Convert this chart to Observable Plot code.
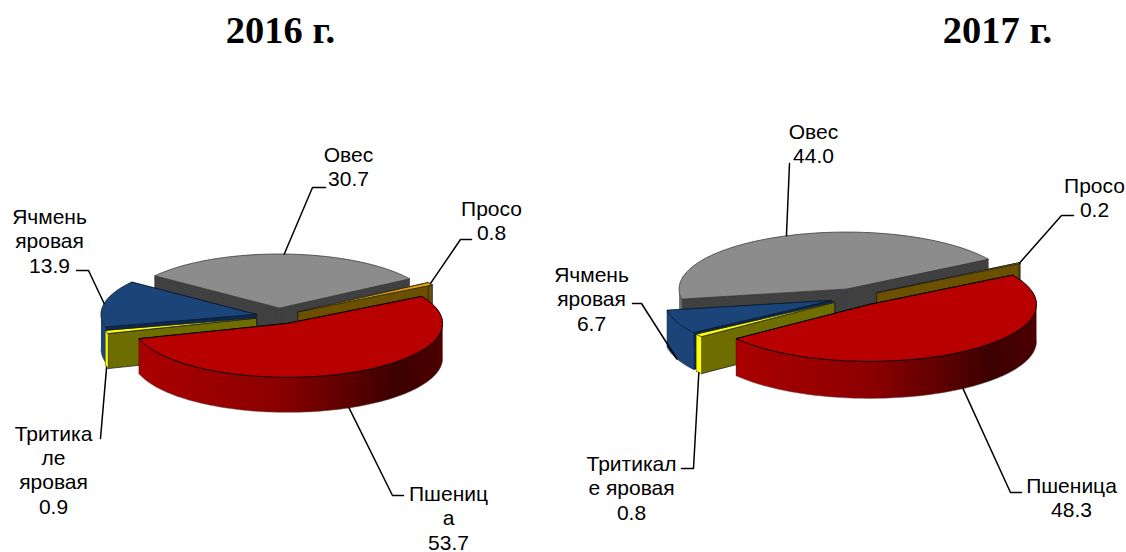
<!DOCTYPE html>
<html>
<head>
<meta charset="utf-8">
<script src="https://cdn.jsdelivr.net/npm/d3@7"></script>
<script src="https://cdn.jsdelivr.net/npm/@observablehq/plot@0.6"></script>
<style>html,body{margin:0;padding:0;background:#fff}svg{display:block}</style>
</head>
<body>
<div id="chart"></div>
<script>
// Data (order of slices clockwise from the wheat slice)
const crops = ["Пшеница", "Тритикале яровая", "Ячмень яровая", "Овес", "Просо"];
const values2016 = [53.7, 0.9, 13.9, 30.7, 0.8];
const values2017 = [48.3, 0.8, 6.7, 44.0, 0.2];
const labelNames2016 = ["Пшениц\nа", "Тритика\nле\nяровая", "Ячмень\nяровая", "Овес", "Просо"];
const labelNames2017 = ["Пшеница", "Тритикал\nе яровая", "Ячмень\nяровая", "Овес", "Просо"];
const titles = ["2016 г.", "2017 г."];

// Slice appearance
const topColors = ["#b80000", "#ffff00", "#1b4478", "#8c8c8c", "#e0a000"];
const faceColors = ["#a00000", "#6e6e00", "#0c2a50", "#404040", "#6b5000"];
const rimColors = ["url(#wheatSide)", "#ffff00", "#1c4478", "#6a6a6a", "#6b5000"];
const edgeColors = ["#000", "#222", "#0a1a30", "#3a3a3a", "#222"];
const paintOrder = [3, 2, 4, 1, 0];

// Pie layout (centre, radii, depth, explosion, start angle)
const pies = [
  {values: values2016, names: labelNames2016, cx: 278, cy: 315.5, a: 155, b: 54, depth: 35, explode: 23, start: -30, title: [280, 30],
   labels: [[448, 517], [53, 469], [49, 240], [348, 166], [491, 220]],
   elbows: [[[392, 495], [403, 495]], [[100, 438]], [[88, 270], [76, 270]], [[312, 187], [325, 187]], [[460, 239], [471, 239]]]},
  {values: values2017, names: labelNames2017, cx: 854.7, cy: 296.7, a: 167, b: 57, depth: 37, explode: 25.5, start: -31, title: [997, 30],
   labels: [[1071, 497], [631, 487], [591, 298], [813, 143], [1094, 197]],
   elbows: [[[1010, 492], [1021, 492]], [[693, 468], [681, 468]], [[641, 303], [632, 303]], [[789, 163]], [[1061, 215], [1073, 215]]]}
];

const rad = d => d * Math.PI / 180;
const marks = [];
const labelRows = [], leaderRows = [];

// horizontal shading of the wheat slice's side
marks.push(() => {
  const ns = "http://www.w3.org/2000/svg";
  const defs = document.createElementNS(ns, "defs");
  const g = document.createElementNS(ns, "linearGradient");
  g.setAttribute("id", "wheatSide");
  [[0, "#aa0000"], [0.45, "#8c0000"], [0.85, "#3c0000"], [1, "#4d0000"]].forEach(([o, c]) => {
    const st = document.createElementNS(ns, "stop");
    st.setAttribute("offset", o);
    st.setAttribute("stop-color", c);
    g.append(st);
  });
  defs.append(g);
  return defs;
});

pies.forEach((p, pi) => {
  const total = d3.sum(p.values);
  let t = p.start;
  const slices = p.values.map((v, i) => {
    const t0 = t, t1 = t + v / total * 360;
    t = t1;
    const mid = (t0 + t1) / 2;
    const ox = p.cx + p.explode * Math.cos(rad(mid));
    const oy = p.cy + p.explode * (p.b / p.a) * Math.sin(rad(mid));
    return {i, t0, t1, mid, ox, oy};
  });
  const rim = (s, d, dy = 0) => ({x: s.ox + p.a * Math.cos(rad(d)), y: s.oy + p.b * Math.sin(rad(d)) + dy});
  const arc = (s, from, to, dy = 0) => {
    const n = Math.max(2, Math.ceil(Math.abs(to - from) / 1.5));
    return d3.range(n + 1).map(k => rim(s, from + (to - from) * k / n, dy));
  };
  paintOrder.forEach(i => {
    const s = slices[i];
    const id = `${pi}-${i}`;
    const apexTop = {x: s.ox, y: s.oy}, apexBot = {x: s.ox, y: s.oy + p.depth};
    // two radial cut faces
    const faces = [];
    [s.t1, s.t0].forEach((d, k) => {
      [apexTop, rim(s, d), rim(s, d, p.depth), apexBot].forEach(q => faces.push({...q, id: id + "f" + k, col: faceColors[i]}));
    });
    marks.push(Plot.line(faces, {x: "x", y: "y", z: "id", fill: "col", stroke: edgeColors[i], strokeWidth: 0.8, curve: "linear-closed", strokeLinejoin: "round"}));
    // outer side, front part only
    const from = Math.max(s.t0, 0), to = Math.min(s.t1, 180);
    if (to > from) {
      const side = [...arc(s, from, to), ...arc(s, to, from, p.depth)];
      marks.push(Plot.line(side, {x: "x", y: "y", fill: rimColors[i], stroke: "none", curve: "linear-closed"}));
      marks.push(Plot.line(arc(s, from, to, p.depth), {x: "x", y: "y", stroke: "#555", strokeWidth: 0.5}));
    }
    // top surface
    const top = [apexTop, ...arc(s, s.t0, s.t1)].map(q => ({...q, col: topColors[i]}));
    marks.push(Plot.line(top, {x: "x", y: "y", fill: "col", stroke: edgeColors[i], strokeWidth: i === 0 ? 1 : 0.8, curve: "linear-closed", strokeLinejoin: "round"}));

    // label + leader
    const sinMid = Math.sin(rad(s.mid));
    const startPt = rim(s, s.mid, sinMid > 0 ? p.depth : 0);
    [startPt, ...p.elbows[i].map(([x, y]) => ({x, y}))].forEach((q, k) => leaderRows.push({...q, id: id, k}));
    labelRows.push({x: p.labels[i][0], y: p.labels[i][1], text: p.names[i] + "\n" + p.values[i].toFixed(1)});
  });
});

marks.push(Plot.line(leaderRows, {x: "x", y: "y", z: "id", stroke: "#000", strokeWidth: 1.5}));
marks.push(Plot.text(labelRows, {x: "x", y: "y", text: "text", fontSize: 21, lineHeight: 1.155, fontFamily: "Liberation Sans", fill: "#000", textAnchor: "middle", lineAnchor: "middle"}));
marks.push(Plot.text(pies.map((p, i) => ({x: p.title[0], y: p.title[1], text: titles[i]})), {x: "x", y: "y", text: "text", fontSize: 38.5, fontWeight: "bold", fontFamily: "Liberation Serif", fill: "#000", textAnchor: "middle", lineAnchor: "middle"}));

const chart = Plot.plot({
  width: 1126, height: 552,
  marginTop: 0, marginRight: 0, marginBottom: 0, marginLeft: 0,
  x: {domain: [0, 1126], range: [0, 1126], axis: null},
  y: {domain: [0, 552], range: [0, 552], axis: null},
  color: {type: "identity"},
  style: {background: "#fff", overflow: "hidden"},
  marks
});
document.getElementById("chart").append(chart);
</script>
</body>
</html>
